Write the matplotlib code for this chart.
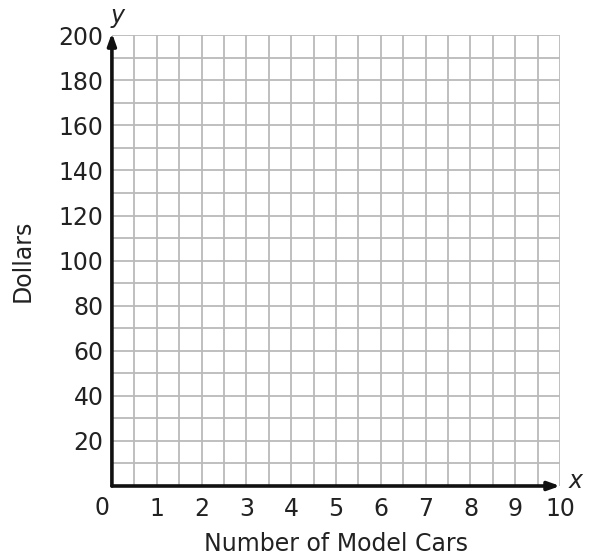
import matplotlib.pyplot as plt
import numpy as np

# axis ranges and labels
x_max = 10
y_max = 200
x_ticks = [1, 2, 3, 4, 5, 6, 7, 8, 9, 10]
y_ticks = [20, 40, 60, 80, 100, 120, 140, 160, 180, 200]
x_minor = np.arange(0.5, 10.01, 0.5)
y_minor = np.arange(10, 200.1, 10)
x_label = "Number of Model Cars"
y_label = "Dollars"

fs = 17
txt = "#222222"

fig = plt.figure(figsize=(5.89, 5.59), dpi=100)
ax = fig.add_axes([0.190, 0.1306, 0.761, 0.8064])
ax.set_xlim(0, x_max)
ax.set_ylim(0, y_max)

# grid
for xv in x_minor:
    ax.axvline(xv, color="#bababa", lw=1.3, zorder=1)
for yv in y_minor:
    ax.axhline(yv, color="#bababa", lw=1.3, zorder=1)

for s in ax.spines.values():
    s.set_visible(False)

ax.set_xticks(x_ticks)
ax.set_yticks(y_ticks)
ax.tick_params(axis="x", length=0, labelsize=fs, colors=txt, pad=8)
ax.tick_params(axis="y", length=0, labelsize=fs, colors=txt, pad=6)
ax.set_xticklabels([str(v) for v in x_ticks])
ax.set_yticklabels([str(v) for v in y_ticks])

# axes with arrows
ax.annotate("", xy=(0, y_max + 1), xytext=(0, 0), annotation_clip=False,
            arrowprops=dict(arrowstyle="-|>,head_length=0.7,head_width=0.25",
                            color="#111111", lw=2.6, shrinkA=0, shrinkB=0), zorder=3)
ax.annotate("", xy=(x_max, 0), xytext=(0, 0), annotation_clip=False,
            arrowprops=dict(arrowstyle="-|>,head_length=0.7,head_width=0.25",
                            color="#111111", lw=2.6, shrinkA=0, shrinkB=0), zorder=3)

ax.text(-0.22, -4.5, "0", ha="center", va="top", fontsize=fs, color=txt)
ax.text(0.12, y_max + 3, "y", ha="center", va="bottom", fontsize=fs,
        style="italic", color=txt)
ax.text(x_max + 0.35, 2, "x", ha="center", va="center", fontsize=fs,
        style="italic", color=txt)

ax.set_xlabel(x_label, fontsize=fs, color=txt, labelpad=8)
ax.set_ylabel(y_label, fontsize=fs, color=txt, labelpad=17)

fig.savefig("out.png", dpi=100)
